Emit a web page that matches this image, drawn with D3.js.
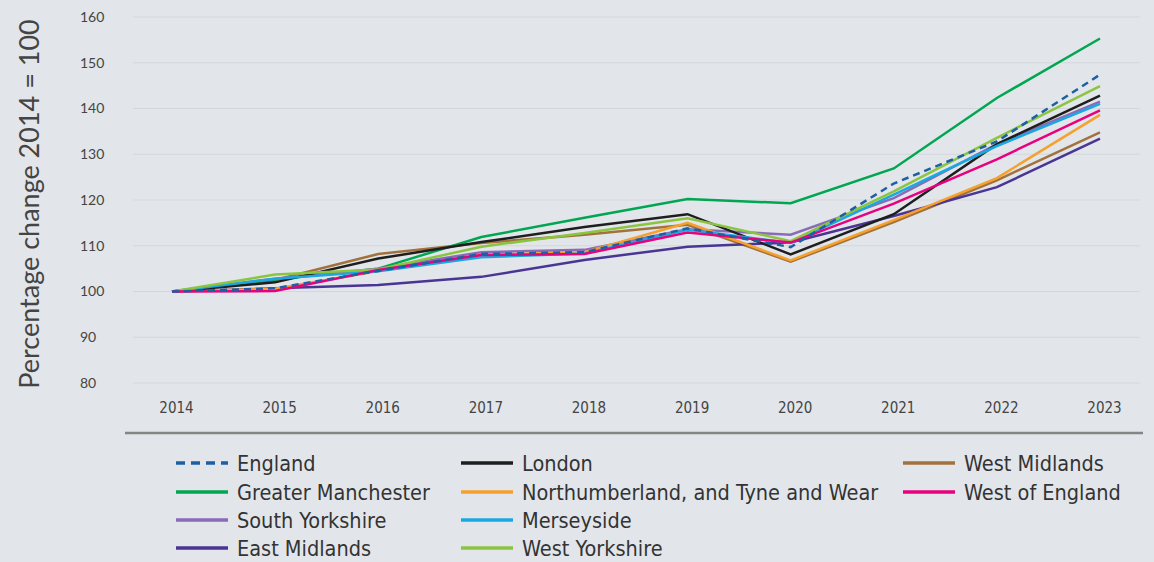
<!DOCTYPE html>
<html>
<head>
<meta charset="utf-8">
<script src="https://cdn.jsdelivr.net/npm/d3@7"></script>
<style>
  body { margin: 0; background: #e2e6ea; }
  svg { display: block; }
</style>
</head>
<body>
<div id="chart"></div>
<script>
var years = [2014, 2015, 2016, 2017, 2018, 2019, 2020, 2021, 2022, 2023];
var yTicks = [80, 90, 100, 110, 120, 130, 140, 150, 160];

var england        = [100, 100.7, 104.5, 108.2, 108.6, 113.8, 109.7, 123.6, 132.8, 147.4];
var london         = [100, 102.0, 107.2, 110.8, 114.1, 116.9, 108.1, 116.9, 132.2, 142.8];
var westMidlands   = [100, 102.5, 108.2, 110.6, 112.4, 114.6, 106.5, 115.2, 124.3, 134.8];
var greaterManc    = [100, 102.6, 105.0, 111.9, 116.1, 120.2, 119.3, 126.9, 142.3, 155.3];
var northumberland = [100, 100.6, 104.5, 108.0, 108.6, 115.0, 106.8, 115.6, 124.8, 138.6];
var westOfEngland  = [100, 100.1, 104.7, 108.0, 108.2, 112.9, 110.7, 119.2, 128.9, 139.6];
var southYorkshire = [100, 102.8, 105.0, 108.6, 109.1, 113.6, 112.4, 120.4, 132.2, 141.5];
var merseyside     = [100, 102.8, 104.4, 107.5, 108.3, 113.5, 110.6, 121.2, 131.8, 141.0];
var eastMidlands   = [100, 100.7, 101.4, 103.2, 106.9, 109.8, 110.7, 116.5, 122.8, 133.4];
var westYorkshire  = [100, 103.7, 104.8, 109.8, 112.8, 116.0, 111.0, 121.9, 133.6, 144.9];

var series = [
  {name: "West Midlands", values: westMidlands, color: "#a2723d"},
  {name: "Greater Manchester", values: greaterManc, color: "#00a651"},
  {name: "South Yorkshire", values: southYorkshire, color: "#8a6bb8"},
  {name: "East Midlands", values: eastMidlands, color: "#4a3595"},
  {name: "Northumberland, and Tyne and Wear", values: northumberland, color: "#f6a02d"},
  {name: "London", values: london, color: "#1e1e1e"},
  {name: "Merseyside", values: merseyside, color: "#1aa8e0"},
  {name: "West Yorkshire", values: westYorkshire, color: "#8bc540"},
  {name: "West of England", values: westOfEngland, color: "#e8007f"},
  {name: "England", values: england, color: "#1d5fa3", dash: "7,5"}
];

var legendCols = [
  ["England", "Greater Manchester", "South Yorkshire", "East Midlands"],
  ["London", "Northumberland, and Tyne and Wear", "Merseyside", "West Yorkshire"],
  ["West Midlands", "West of England"]
];

var width = 1154, height = 562;
var svg = d3.select("#chart").append("svg")
  .attr("width", width).attr("height", height);

svg.append("rect").attr("width", width).attr("height", height).attr("fill", "#e2e6ea");

var x = d3.scalePoint().domain(years).range([172, 1100]);
var y = d3.scaleLinear().domain([80, 160]).range([383, 17]);

// gridlines
svg.append("g").selectAll("line")
  .data(yTicks)
  .enter().append("line")
  .attr("x1", 133).attr("x2", 1140)
  .attr("y1", function(d){ return y(d); })
  .attr("y2", function(d){ return y(d); })
  .attr("stroke", "#d3d7db").attr("stroke-width", 1.2);

var yAxis = svg.append("g").attr("transform", "translate(80,0)")
  .call(d3.axisLeft(y).tickValues(yTicks).tickSize(0).tickPadding(0));
yAxis.select(".domain").remove();
yAxis.selectAll("text")
  .attr("text-anchor", "start")
  .attr("font-family", "Lato, 'Open Sans', sans-serif")
  .attr("font-size", 14).attr("fill", "#444");

var xAxis = svg.append("g").attr("transform", "translate(4,408)")
  .call(d3.axisBottom(x).tickSize(0).tickPadding(0));
xAxis.select(".domain").remove();
xAxis.selectAll("text")
  .attr("dy", "0.35em")
  .attr("font-family", "'Liberation Sans Narrow', 'DejaVu Sans Condensed', sans-serif")
  .attr("font-size", 15).attr("fill", "#444");

svg.append("line")
  .attr("x1", 125).attr("x2", 1143).attr("y1", 433).attr("y2", 433)
  .attr("stroke", "#858585").attr("stroke-width", 2.5);

svg.append("text")
  .attr("transform", "translate(39,204) rotate(-90)")
  .attr("text-anchor", "middle")
  .attr("font-family", "Lato, 'Open Sans', sans-serif")
  .attr("font-size", 27).attr("fill", "#444")
  .text("Percentage change 2014 = 100");

var line = d3.line()
  .x(function(d, i){ return x(years[i]); })
  .y(function(d){ return y(d); });

svg.append("g").selectAll("path")
  .data(series)
  .enter().append("path")
  .attr("d", function(d){ return line(d.values); })
  .attr("fill", "none")
  .attr("stroke", function(d){ return d.color; })
  .attr("stroke-width", 2.5)
  .attr("stroke-dasharray", function(d){ return d.dash || null; });

// legend
var colX = [176, 461, 903];
var rowY = [463, 492, 520, 548];
var byName = {};
series.forEach(function(s){ byName[s.name] = s; });

legendCols.forEach(function(col, ci){
  col.forEach(function(name, ri){
    var s = byName[name];
    var g = svg.append("g").attr("transform", "translate(" + colX[ci] + "," + rowY[ri] + ")");
    g.append("line")
      .attr("x1", 0).attr("x2", 52).attr("y1", 0).attr("y2", 0)
      .attr("stroke", s.color).attr("stroke-width", 3.5)
      .attr("stroke-dasharray", s.dash ? "9,6" : null);
    g.append("text")
      .attr("x", 61).attr("dy", "0.35em")
      .attr("font-family", "'Liberation Sans Narrow', 'DejaVu Sans Condensed', sans-serif")
      .attr("font-size", 21.5).attr("fill", "#333")
      .text(name);
  });
});
</script>
</body>
</html>
